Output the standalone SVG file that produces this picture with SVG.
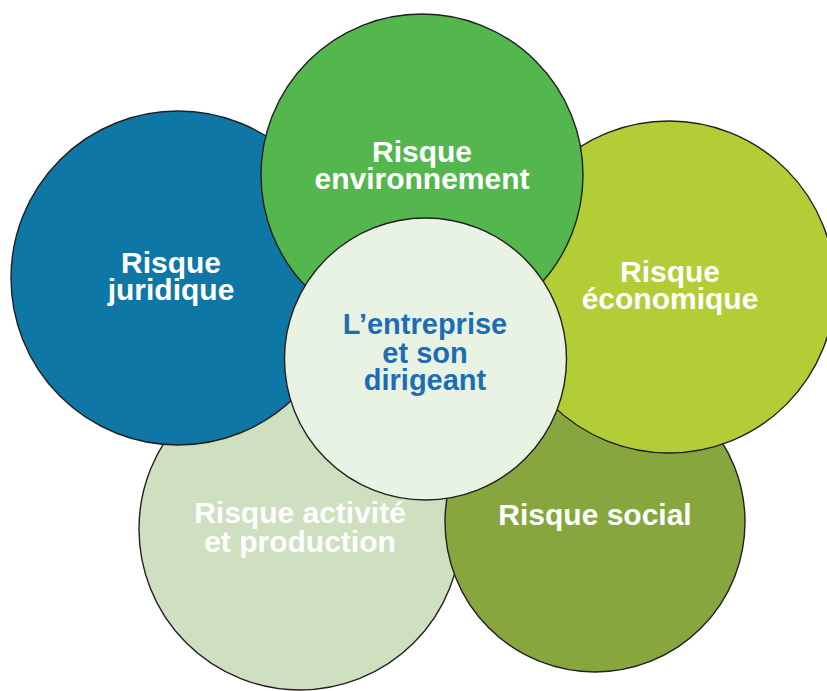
<svg xmlns="http://www.w3.org/2000/svg" width="827" height="691" viewBox="0 0 827 691">
<style>
circle{stroke:#231f20;stroke-width:1.4}
text{font-family:"Liberation Sans",Arial,sans-serif;font-weight:bold;font-size:30px;text-anchor:middle;fill:#ffffff}
.c{fill:#1c6db6;font-size:29px}
</style>
<rect width="827" height="691" fill="#ffffff"/>
<g id="activite">
<circle cx="300" cy="529" r="161" fill="#cee0c0"/>
<text x="300" y="523">Risque activité</text>
<text x="300" y="552">et production</text>
</g>
<g id="social">
<circle cx="595" cy="522" r="150" fill="#87a63e"/>
<text x="595" y="525">Risque social</text>
</g>
<g id="juridique">
<circle cx="178" cy="278" r="167" fill="#0e77a5"/>
<text x="171" y="273">Risque</text>
<text x="171" y="300">juridique</text>
</g>
<g id="economique">
<circle cx="669" cy="287" r="166" fill="#b2cd35"/>
<text x="670" y="282">Risque</text>
<text x="670" y="309">économique</text>
</g>
<g id="environnement">
<circle cx="422" cy="175" r="161" fill="#54b74e"/>
<text x="422" y="162">Risque</text>
<text x="422" y="189">environnement</text>
</g>
<g id="centre">
<circle cx="425.5" cy="359" r="141" fill="#e9f3e3"/>
<text class="c" x="425" y="334">L’entreprise</text>
<text class="c" x="425" y="363">et son</text>
<text class="c" x="425" y="390">dirigeant</text>
</g>
<g id="connectors"/>
</svg>
